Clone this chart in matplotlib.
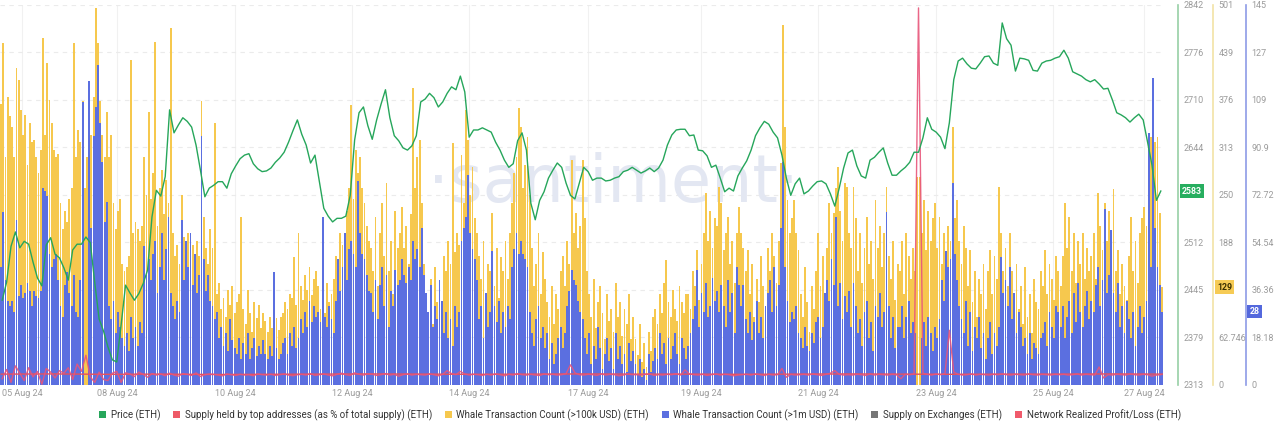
import numpy as np
import matplotlib
matplotlib.use("Agg")
import matplotlib.pyplot as plt
from matplotlib.patches import Patch
from matplotlib.transforms import blended_transform_factory

# ---------------- data (hourly whale counts, 22 days x 24 h) ----------------
WHALE_100K = [
    370, 451, 300, 380, 355, 340, 300, 418, 402, 362, 330, 356, 290, 345, 320, 323, 300, 280, 310, 457, 330, 424, 376, 345,
    310, 300, 305, 240, 205, 230, 215, 245, 260, 451, 300, 336, 320, 375, 260, 300, 336, 330, 380, 497, 451, 375, 330, 300,
    360, 300, 330, 240, 205, 230, 245, 160, 150, 155, 170, 428, 200, 215, 205, 190, 210, 300, 250, 360, 245, 280, 452, 210,
    260, 283, 225, 270, 240, 470, 200, 170, 185, 160, 250, 195, 175, 200, 160, 185, 155, 190, 170, 375, 222, 180, 160, 205,
    180, 345, 120, 135, 100, 115, 90, 125, 105, 130, 95, 110, 120, 221, 100, 80, 125, 95, 70, 110, 88, 105, 75, 95,
    85, 70, 90, 75, 80, 88, 72, 90, 95, 110, 100, 120, 115, 169, 105, 200, 130, 112, 145, 125, 155, 118, 140, 150,
    130, 100, 125, 95, 135, 110, 120, 140, 170, 155, 200, 185, 170, 230, 260, 369, 245, 310, 280, 300, 260, 240, 210, 190,
    180, 150, 221, 130, 200, 240, 170, 266, 150, 190, 120, 230, 180, 200, 235, 180, 210, 160, 225, 391, 260, 300, 323, 240,
    160, 120, 90, 140, 80, 155, 110, 130, 100, 170, 150, 190, 160, 319, 175, 200, 185, 303, 240, 362, 323, 250, 287, 220,
    200, 170, 140, 190, 120, 160, 150, 227, 130, 180, 115, 169, 150, 190, 140, 200, 240, 280, 300, 365, 340, 260, 290, 327,
    250, 180, 130, 160, 200, 120, 175, 140, 110, 90, 130, 80, 120, 100, 150, 170, 130, 190, 160, 297, 200, 227, 180, 210,
    297, 220, 150, 120, 90, 140, 75, 110, 130, 95, 60, 120, 85, 100, 70, 134, 90, 110, 65, 100, 80, 120, 60, 90,
    60, 40, 80, 30, 55, 24, 70, 45, 90, 100, 80, 120, 95, 134, 165, 110, 90, 125, 100, 85, 130, 110, 95, 120,
    120, 100, 150, 130, 178, 112, 160, 200, 253, 190, 230, 180, 220, 210, 261, 240, 178, 200, 221, 160, 190, 134, 200, 235,
    200, 180, 150, 178, 120, 160, 90, 140, 110, 170, 130, 100, 180, 150, 200, 170, 134, 190, 293, 474, 340, 244, 200, 220,
    244, 200, 178, 120, 90, 155, 110, 70, 130, 100, 150, 200, 130, 170, 112, 180, 240, 200, 227, 260, 287, 230, 190, 266,
    261, 200, 180, 261, 220, 150, 200, 134, 180, 221, 160, 190, 140, 244, 180, 210, 155, 200, 261, 170, 140, 190, 112, 160,
    150, 190, 120, 200, 170, 140, 180, 150, 274, 274, 200, 244, 178, 230, 190, 220, 240, 180, 221, 160, 200, 155, 210, 190,
    340, 220, 244, 190, 160, 210, 180, 130, 178, 110, 150, 90, 140, 120, 160, 100, 150, 178, 120, 170, 140, 261, 200, 150,
    180, 130, 200, 150, 112, 160, 100, 130, 80, 155, 90, 120, 69, 140, 110, 100, 150, 130, 178, 120, 160, 140, 112, 170,
    150, 130, 170, 240, 180, 221, 150, 200, 134, 190, 160, 200, 140, 180, 150, 170, 200, 140, 253, 210, 178, 240, 190, 230,
    200, 259, 150, 178, 120, 160, 130, 112, 170, 221, 150, 190, 134, 200, 220, 235, 210, 310, 327, 300, 320, 327, 227, 129,
]

WHALE_1M = [
    45, 66, 40, 32, 30, 32, 28, 63, 34, 38, 33, 35, 39, 36, 30, 36, 34, 33, 36, 75, 74, 72, 50, 45,
    48, 50, 40, 30, 26, 38, 43, 35, 30, 42, 28, 26, 40, 108, 0, 0, 116, 60, 95, 106, 122, 100, 85, 62,
    70, 30, 25, 32, 20, 28, 22, 18, 15, 20, 13, 26, 18, 22, 15, 24, 20, 53, 42, 48, 40, 50, 55, 35,
    45, 58, 40, 52, 64, 35, 30, 25, 32, 28, 63, 40, 55, 45, 58, 38, 50, 35, 42, 95, 48, 36, 42, 32,
    30, 25, 28, 18, 22, 15, 20, 13, 25, 17, 14, 12, 18, 10, 16, 12, 20, 10, 14, 18, 11, 15, 12, 17,
    12, 10, 15, 11, 43, 14, 10, 12, 16, 18, 12, 20, 15, 22, 14, 18, 25, 20, 28, 22, 32, 24, 30, 26,
    28, 24, 64, 26, 22, 30, 25, 20, 32, 48, 36, 45, 58, 40, 52, 55, 50, 45, 78, 58, 50, 48, 42, 36,
    35, 28, 40, 25, 38, 45, 30, 42, 22, 36, 30, 44, 38, 40, 48, 42, 39, 45, 40, 55, 48, 52, 45, 60,
    42, 35, 28, 38, 22, 30, 25, 40, 32, 20, 28, 18, 25, 15, 30, 22, 28, 55, 60, 64, 80, 58, 52, 48,
    40, 25, 30, 18, 35, 22, 28, 51, 30, 24, 32, 20, 28, 22, 30, 25, 45, 52, 58, 50, 55, 50, 48, 45,
    28, 20, 15, 25, 30, 18, 22, 14, 20, 10, 16, 8, 12, 18, 22, 14, 20, 30, 36, 44, 40, 38, 32, 28,
    25, 18, 12, 20, 8, 15, 10, 22, 14, 6, 12, 18, 9, 14, 6, 20, 10, 15, 8, 12, 5, 16, 9, 13,
    8, 4, 10, 3, 6, 2, 12, 5, 9, 14, 10, 20, 12, 16, 8, 18, 10, 15, 20, 12, 8, 18, 14, 10,
    15, 20, 25, 30, 44, 22, 35, 28, 39, 26, 30, 41, 32, 36, 28, 38, 30, 22, 40, 28, 35, 20, 45, 38,
    30, 38, 25, 20, 28, 17, 24, 32, 20, 26, 18, 30, 35, 40, 28, 45, 30, 38, 60, 85, 45, 32, 24, 28,
    25, 30, 20, 18, 14, 22, 15, 13, 20, 16, 24, 26, 18, 22, 35, 40, 32, 48, 38, 64, 30, 39, 25, 34,
    28, 36, 22, 39, 30, 20, 25, 15, 28, 32, 18, 24, 13, 30, 26, 35, 22, 28, 66, 30, 18, 26, 14, 22,
    22, 30, 18, 26, 32, 20, 24, 20, 0, 0, 18, 24, 15, 26, 20, 13, 22, 18, 25, 40, 32, 51, 45, 48,
    77, 50, 40, 30, 25, 20, 32, 15, 28, 13, 22, 18, 26, 14, 20, 10, 18, 24, 12, 20, 15, 22, 49, 35,
    40, 30, 45, 25, 35, 20, 28, 22, 15, 18, 12, 20, 10, 16, 14, 12, 18, 20, 24, 15, 28, 22, 18, 30,
    28, 22, 30, 18, 26, 32, 20, 35, 24, 39, 28, 22, 30, 36, 25, 32, 28, 38, 45, 30, 40, 67, 35, 42,
    59, 35, 28, 39, 22, 30, 20, 32, 25, 18, 28, 15, 22, 30, 20, 26, 32, 96, 45, 117, 60, 45, 38, 28,
]

# price, 2-hourly
PRICE = [
    2431, 2456, 2506, 2526, 2504, 2513, 2509, 2484, 2462, 2451, 2508, 2518,
    2495, 2490, 2476, 2459, 2501, 2509, 2509, 2519, 2511, 2456, 2405, 2388,
    2366, 2348, 2345, 2397, 2452, 2441, 2431, 2440, 2454, 2473, 2547, 2584,
    2576, 2603, 2696, 2664, 2675, 2685, 2680, 2672, 2647, 2612, 2575, 2587,
    2591, 2596, 2596, 2587, 2607, 2618, 2628, 2633, 2635, 2621, 2614, 2610,
    2611, 2615, 2623, 2629, 2637, 2651, 2667, 2682, 2662, 2647, 2622, 2633,
    2596, 2559, 2548, 2540, 2545, 2545, 2548, 2577, 2654, 2692, 2700, 2674,
    2655, 2682, 2704, 2724, 2685, 2660, 2653, 2643, 2640, 2646, 2660, 2707,
    2711, 2719, 2713, 2700, 2707, 2719, 2728, 2724, 2743, 2721, 2658, 2668,
    2668, 2671, 2668, 2665, 2651, 2640, 2626, 2616, 2621, 2653, 2664, 2640,
    2566, 2543, 2570, 2582, 2601, 2612, 2622, 2616, 2594, 2577, 2572, 2594,
    2616, 2610, 2598, 2601, 2601, 2597, 2598, 2601, 2603, 2610, 2612, 2616,
    2612, 2608, 2611, 2615, 2610, 2615, 2626, 2647, 2661, 2668, 2669, 2669,
    2660, 2661, 2640, 2639, 2632, 2616, 2619, 2601, 2582, 2587, 2583, 2604,
    2615, 2625, 2640, 2660, 2671, 2680, 2676, 2665, 2657, 2633, 2601, 2577,
    2593, 2601, 2579, 2583, 2590, 2596, 2597, 2593, 2579, 2562, 2587, 2615,
    2636, 2640, 2618, 2604, 2601, 2626, 2630, 2637, 2643, 2622, 2605, 2605,
    2611, 2616, 2623, 2637, 2637, 2657, 2685, 2669, 2665, 2658, 2642, 2678,
    2738, 2764, 2768, 2760, 2754, 2753, 2761, 2770, 2771, 2761, 2758, 2817,
    2795, 2786, 2750, 2768, 2767, 2765, 2751, 2750, 2761, 2764, 2765, 2768,
    2770, 2779, 2768, 2749, 2746, 2743, 2738, 2735, 2738, 2732, 2725, 2726,
    2710, 2692, 2689, 2685, 2679, 2685, 2690, 2682, 2651, 2619, 2570, 2583,
]

# network realized profit/loss, 2-hourly
NRPL = [
    -10, 15, -20, 25, 5, -15, 20, -5, 10, -25, 18, 8,
    -8, 12, 5, 20, -12, 30, 10, 54, -5, -20, 8, -12,
    -15, 5, 10, -20, 6, 3, -4, 8, 2, -6, 4, 0,
    3, -2, 5, 0, -3, 4, 2, -1, 6, -4, 1, 3,
    2, 0, -2, 3, 1, -1, 2, 0, 1, -2, 3, 1,
    0, 2, -1, 1, 3, 0, -2, 1, 2, 0, 4, -1,
    1, 3, 0, -2, 2, 5, 1, -1, 6, 2, 0, 3,
    2, -1, 1, 4, 0, 2, -3, 1, 3, 0, 2, 1,
    0, 3, 1, -2, 2, 12, 4, 1, 10, 3, 0, 2,
    1, -1, 2, 0, 3, 1, -2, 2, 0, 4, 1, 0,
    2, 0, -1, 3, 1, 2, 0, 1, 4, 28, 6, 1,
    0, 2, 1, -1, 3, 0, 2, 1, -2, 0, 3, 1,
    1, 0, 2, 3, -1, 1, 0, 2, 1, 4, 0, 14,
    3, 1, 0, 2, -1, 1, 3, 0, 2, 1, -2, 0,
    1, 2, 0, 3, 1, -1, 2, 0, 1, 18, -6, 2,
    0, 1, 2, 0, 3, 1, -1, 2, 5, 12, 2, 0,
    1, 0, 2, 1, -1, 3, 0, 2, 1, 0, 2, 1,
    -10, 2, 1, 3, 1000, 5, 2, 0, 3, 1, 4, 122,
    8, 2, 0, 1, 3, 0, 2, 1, 0, 2, 1, 3,
    1, 0, 2, 1, 0, 3, 1, 0, 2, 1, 0, 2,
    1, 2, 0, 1, 3, 0, 2, 1, 0, 22, -8, 1,
    0, 2, 1, 0, 3, 1, 0, 2, 1, -3, 0, 1,
]

# supply held by top addresses (%), daily
SUPPLY_TOP = [67.60, 67.61, 67.59, 67.60, 67.58, 67.59, 67.60, 67.61, 67.60, 67.59, 67.60, 67.61,
              67.60, 67.60, 67.59, 67.60, 67.61, 67.60, 67.59, 67.60, 67.60, 67.61, 67.60]

DATE_LABELS = ["05 Aug 24", "08 Aug 24", "10 Aug 24", "12 Aug 24", "14 Aug 24", "17 Aug 24",
               "19 Aug 24", "21 Aug 24", "23 Aug 24", "25 Aug 24", "27 Aug 24"]
PRICE_TICKS = ["2313", "2379", "2445", "2512", "", "2644", "2710", "2776", "2842"]
W100K_TICKS = ["0", "62.746", "", "188", "250", "313", "376", "439", "501"]
W1M_TICKS = ["0", "18.18", "36.36", "54.54", "72.72", "90.9", "109", "127", "145"]

LEGEND_LABELS = ["Price (ETH)", "Supply held by top addresses (as % of total supply) (ETH)",
                 "Whale Transaction Count (>100k USD) (ETH)", "Whale Transaction Count (>1m USD) (ETH)",
                 "Supply on Exchanges (ETH)", "Network Realized Profit/Loss (ETH)"]

# ---------------- layout / style ----------------
plt.rcParams["font.family"] = ["Roboto", "DejaVu Sans"]
GREEN = "#26a65b"
YELLOW = "#f6c84e"
BLUE = "#5b6fe0"
RED = "#e8505b"
PINK = "#e8557a"
GRAY = "#777777"
TICK_COLOR = "#9b9b9b"
BAR_W = 0.84
date_tick_pos = [9.5, 52.6, 106.2, 159.3, 212.4, 266.4, 317.7, 370.9, 424.4, 477.5, 519.0]

N = len(WHALE_100K)
hours = np.arange(N)
two_hourly = np.arange(0, N, 2) + 0.5
daily = np.arange(len(SUPPLY_TOP)) * 24

fig = plt.figure(figsize=(12.8, 4.33), dpi=100)
ax = fig.add_axes([0.0, 0.1109, 0.9086, 0.8776])
ax_b = ax.twinx()
ax_s = ax.twinx()
ax_n = ax.twinx()
ax_p = ax.twinx()

# yellow bars (main axis)
ax.bar(hours, WHALE_100K, width=BAR_W, color=YELLOW, linewidth=0, zorder=2)
ax.set_ylim(0, 501)
ax.set_xlim(-0.5, N - 0.5)
ax.set_yticks(np.linspace(0, 501, 9))
ax.set_yticklabels(W100K_TICKS)
ax.yaxis.tick_right()
ax.spines["right"].set_position(("axes", 1.043))
ax.spines["right"].set_color("#f2e3a6")
ax.spines["right"].set_linewidth(1.2)
for s in ("top", "left", "bottom"):
    ax.spines[s].set_visible(False)
ax.tick_params(axis="y", length=0, pad=4, labelsize=6.5, labelcolor=TICK_COLOR)
ax.set_xticks(date_tick_pos)
ax.set_xticklabels(DATE_LABELS)
ax.tick_params(axis="x", length=0, pad=3, labelsize=6.5, labelcolor=TICK_COLOR)
ax.grid(axis="y", color="#ebebeb", linestyle=(0, (4, 4)), linewidth=0.8, zorder=0)
ax.grid(axis="x", color="#f1f1f1", linestyle="-", linewidth=0.8, zorder=0)
ax.set_axisbelow(True)
ax.text(0.527, 0.53, "\u00b7santiment\u00b7", transform=ax.transAxes, fontsize=47,
        family="DejaVu Sans", color="#e3e7f2", ha="center", va="center", zorder=1)

# blue bars
ax_b.bar(hours, WHALE_1M, width=BAR_W, color=BLUE, linewidth=0, zorder=2)
ax_b.set_ylim(0, 145)
ax_b.set_yticks(np.linspace(0, 145, 9))
ax_b.set_yticklabels(W1M_TICKS)
ax_b.spines["right"].set_position(("axes", 1.0714))
ax_b.spines["right"].set_color("#8d9be6")
ax_b.spines["right"].set_linewidth(1.2)
for s in ("top", "left", "bottom"):
    ax_b.spines[s].set_visible(False)
ax_b.tick_params(axis="y", length=0, pad=4, labelsize=6.5, labelcolor=TICK_COLOR)

# supply held by top addresses (hidden scale)
ax_s.plot(daily, SUPPLY_TOP, color=RED, linewidth=1.0)
ax_s.set_ylim(67.0, 88.0)
ax_s.axis("off")

# network realized profit / loss (hidden scale)
ax_n.plot(two_hourly, NRPL, color=PINK, linewidth=1.0, alpha=0.9)
ax_n.set_ylim(-27, 1008)
ax_n.axis("off")

# price
ax_p.plot(two_hourly, PRICE, color=GREEN, linewidth=1.0)
ax_p.set_ylim(2313, 2842)
ax_p.set_yticks(np.linspace(2313, 2842, 9))
ax_p.set_yticklabels(PRICE_TICKS)
ax_p.spines["right"].set_position(("axes", 1.0129))
ax_p.spines["right"].set_color("#97cfa6")
ax_p.spines["right"].set_linewidth(1.2)
for s in ("top", "left", "bottom"):
    ax_p.spines[s].set_visible(False)
ax_p.tick_params(axis="y", length=0, pad=4, labelsize=6.5, labelcolor=TICK_COLOR)

for a in (ax_b, ax_s, ax_n, ax_p):
    a.set_xlim(-0.5, N - 0.5)

# last-value badges
def badge(axis, xfrac, value, text, fc, tc):
    tr = blended_transform_factory(axis.transAxes, axis.transData)
    axis.text(xfrac, value, text, transform=tr, fontsize=6.3, color=tc, ha="left", va="center",
              fontweight="bold", clip_on=False, zorder=20,
              bbox=dict(boxstyle="square,pad=0.25", fc=fc, ec="none"))

badge(ax_p, 1.0165, PRICE[-1], str(PRICE[-1]), "#27ae5f", "white")
badge(ax, 1.0465, WHALE_100K[-1], str(WHALE_100K[-1]), "#f6cb55", "#3a2f00")
badge(ax_b, 1.0745, WHALE_1M[-1], str(WHALE_1M[-1]), "#5468dd", "white")

# legend
colors = [GREEN, "#ee5a67", YELLOW, BLUE, GRAY, "#f05a6b"]
handles = [Patch(facecolor=c, edgecolor="none") for c in colors]
fig.legend(handles, LEGEND_LABELS, loc="center", bbox_to_anchor=(0.5, 0.042), ncol=6,
           frameon=False, fontsize=7, handlelength=0.7, handleheight=0.7,
           handletextpad=0.5, columnspacing=1.3, labelcolor="#333333")

fig.savefig("out.png", dpi=100)
